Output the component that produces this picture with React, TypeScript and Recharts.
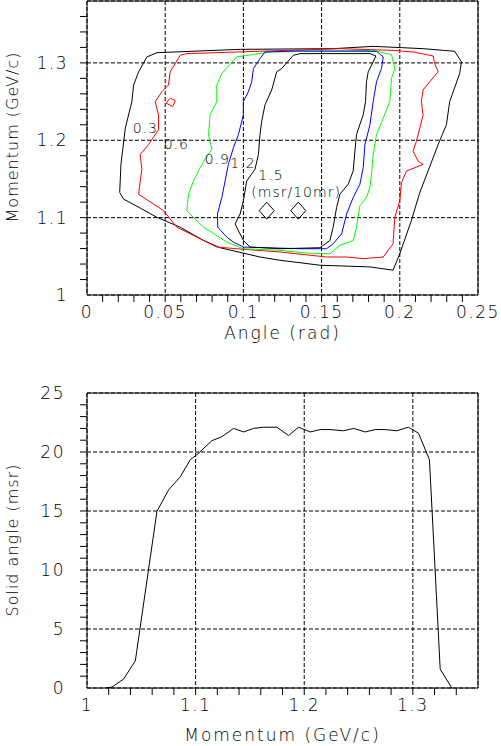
import React from "react";
import {
  ScatterChart,
  Scatter,
  LineChart,
  Line,
  XAxis,
  YAxis,
  CartesianGrid,
  ReferenceArea,
} from "recharts";

// --- top panel: acceptance contours (angle rad, momentum GeV/c) ---
const contour03: [number, number][] = [
  [0.033, 1.2885], [0.0383, 1.3077], [0.0447, 1.3132], [0.0979, 1.3175], [0.1574, 1.3184],
  [0.183, 1.3214], [0.2149, 1.3184], [0.2351, 1.315], [0.2394, 1.3013], [0.2383, 1.2863],
  [0.2319, 1.25], [0.2298, 1.2201], [0.2245, 1.1944], [0.2213, 1.1774], [0.2128, 1.1325],
  [0.2074, 1.0962], [0.2, 1.0534], [0.1957, 1.0321], [0.1809, 1.0363], [0.1489, 1.0385],
  [0.1234, 1.0449], [0.1106, 1.0491], [0.0851, 1.0611], [0.0745, 1.0705], [0.0596, 1.0876],
  [0.0447, 1.1004], [0.034, 1.1124], [0.0234, 1.1239], [0.0209, 1.1325], [0.0217, 1.1688],
  [0.0245, 1.2158], [0.0287, 1.25], [0.0298, 1.2714], [0.033, 1.2885],
];

const contour06: [number, number][] = [
  [0.0596, 1.3098], [0.0638, 1.312], [0.0957, 1.3141], [0.1617, 1.3184], [0.1957, 1.3162],
  [0.2085, 1.3141], [0.2213, 1.309], [0.2223, 1.2991], [0.2245, 1.2885], [0.2191, 1.2756],
  [0.2149, 1.265], [0.2138, 1.25], [0.2149, 1.2329], [0.2128, 1.2158], [0.2106, 1.1987],
  [0.2085, 1.1859], [0.2117, 1.1731], [0.2149, 1.1688], [0.2043, 1.1603], [0.2011, 1.1453],
  [0.2, 1.1218], [0.1968, 1.1004], [0.1957, 1.0662], [0.1894, 1.0491], [0.1766, 1.047],
  [0.166, 1.0491], [0.1532, 1.0491], [0.1234, 1.0556], [0.0957, 1.0598], [0.083, 1.062],
  [0.066, 1.0791], [0.0574, 1.0876], [0.0489, 1.109], [0.0426, 1.1175], [0.033, 1.1303],
  [0.034, 1.1474], [0.0351, 1.1624], [0.034, 1.1816], [0.0394, 1.1944], [0.0457, 1.2137],
  [0.0457, 1.2329], [0.0436, 1.25], [0.0479, 1.2628], [0.0521, 1.2714], [0.0532, 1.2885],
  [0.0596, 1.3098],
];

// small island of the 0.6 level
const contour06b: [number, number][] = [
  [0.0506, 1.2479], [0.0532, 1.2543], [0.0564, 1.2513], [0.0549, 1.2436], [0.0506, 1.2479],
];

const contour09: [number, number][] = [
  [0.0957, 1.3077], [0.117, 1.3141], [0.183, 1.3162], [0.1947, 1.3107], [0.1968, 1.2927],
  [0.1947, 1.2799], [0.1936, 1.25], [0.1894, 1.2286], [0.1851, 1.2073], [0.183, 1.1816],
  [0.1819, 1.156], [0.1809, 1.1389], [0.1787, 1.1261], [0.1745, 1.1154], [0.1723, 1.0876],
  [0.1702, 1.0705], [0.1617, 1.0641], [0.1553, 1.0534], [0.1447, 1.0534], [0.1234, 1.0577],
  [0.1, 1.0598], [0.0894, 1.0684], [0.083, 1.0769], [0.0745, 1.0876], [0.0681, 1.1004],
  [0.0638, 1.109], [0.0649, 1.1303], [0.0681, 1.1474], [0.0723, 1.1645], [0.0766, 1.1795],
  [0.0798, 1.188], [0.0777, 1.2073], [0.0787, 1.2329], [0.083, 1.25], [0.083, 1.2714],
  [0.0862, 1.2863], [0.0957, 1.3077],
];

const contour12: [number, number][] = [
  [0.1138, 1.3141], [0.134, 1.3154], [0.1851, 1.315], [0.1894, 1.3077], [0.1883, 1.2927],
  [0.1851, 1.2756], [0.183, 1.25], [0.1809, 1.2201], [0.1777, 1.1944], [0.1766, 1.1645],
  [0.1745, 1.1432], [0.1702, 1.1261], [0.166, 1.1047], [0.1628, 1.0791], [0.1574, 1.0662],
  [0.1532, 1.0598], [0.1362, 1.0598], [0.1, 1.062], [0.0936, 1.0684], [0.0894, 1.0748],
  [0.0836, 1.0876], [0.0834, 1.1047], [0.0862, 1.1261], [0.0883, 1.1474], [0.0904, 1.1688],
  [0.0936, 1.1902], [0.0968, 1.2073], [0.1, 1.2329], [0.1, 1.25], [0.1032, 1.2628],
  [0.1053, 1.2756], [0.1064, 1.2927], [0.1106, 1.3056], [0.1138, 1.3141],
];

const contour15: [number, number][] = [
  [0.1319, 1.3098], [0.1362, 1.312], [0.1809, 1.312], [0.1847, 1.309], [0.183, 1.3013],
  [0.1798, 1.2885], [0.1787, 1.2756], [0.1781, 1.25], [0.1766, 1.2329], [0.1723, 1.2073],
  [0.1713, 1.1859], [0.1702, 1.1603], [0.167, 1.1432], [0.1617, 1.1303], [0.1596, 1.1132],
  [0.1574, 1.0876], [0.1553, 1.0705], [0.1489, 1.0611], [0.1234, 1.0598], [0.1043, 1.062],
  [0.1, 1.0705], [0.0957, 1.0876], [0.0947, 1.0919], [0.0979, 1.1047], [0.1, 1.1218],
  [0.1021, 1.1474], [0.1074, 1.1624], [0.1096, 1.1816], [0.1106, 1.2073], [0.1117, 1.2244],
  [0.1138, 1.2457], [0.1181, 1.265], [0.1213, 1.2885], [0.1245, 1.2927], [0.1319, 1.3098],
];

const diamonds: [number, number][] = [[0.1149, 1.109], [0.1351, 1.109]];

const levelLabels = ["0.3", "0.6", "0.9", "1.2", "1.5", "(msr/10mr)"];
const levelLabelPos: [number, number][] = [
  [0.0373, 1.2164], [0.0571, 1.1957], [0.0833, 1.1755], [0.0997, 1.1704], [0.1176, 1.1556], [0.1337, 1.1336],
];

const angleTicks = [0, 0.05, 0.1, 0.15, 0.2, 0.25];
const momTicksTop = [1, 1.1, 1.2, 1.3];

// --- bottom panel: solid angle vs momentum ---
const momentum = [
  1.0169, 1.023, 1.0337, 1.0445, 1.0644, 1.0752, 1.0859, 1.0951, 1.1012, 1.115, 1.1242,
  1.135, 1.1442, 1.1534, 1.1626, 1.1748, 1.1856, 1.1948, 1.2055, 1.2147, 1.2239, 1.2362,
  1.2454, 1.2561, 1.2653, 1.2745, 1.2853, 1.296, 1.3052, 1.3153, 1.3252, 1.3359,
];
const solidAngle = [
  0, 0.08, 0.76, 2.3, 14.97, 16.8, 17.9, 19.35, 19.77, 20.96, 21.3,
  22.0, 21.7, 22.0, 22.1, 22.1, 21.4, 22.1, 21.7, 21.9, 21.9, 21.8,
  22.0, 21.7, 21.9, 21.9, 21.8, 22.1, 21.6, 19.35, 1.6, 0,
];
const momTicksBottom = [1, 1.1, 1.2, 1.3];
const solidTicks = [0, 5, 10, 15, 20, 25];

const FONT = "DejaVu Sans";
const WEIGHT = 200;
const tickStyle = { fontSize: 17, fill: "#000", fontFamily: FONT, fontWeight: WEIGHT, letterSpacing: 1.5 };
const gridDash = "4 2";
const MINOR = -7; // inward minor tick length

const steps = (from: number, to: number, step: number) => {
  const out: number[] = [];
  for (let i = 0; from + i * step <= to + 1e-9; i++) out.push(+(from + i * step).toFixed(4));
  return out;
};

const toXY = (pts: [number, number][]) => pts.map(([x, y]) => ({ x, y }));

const xTitle = (text: string, dy: number) => (props: any) => {
  const vb = props.viewBox;
  return (
    <text
      x={vb.x + vb.width / 2}
      y={vb.y + dy}
      textAnchor="middle"
      fontSize={17}
      fontFamily={FONT}
      fontWeight={WEIGHT}
      letterSpacing={2}
      fill="#000"
    >
      {text}
    </text>
  );
};

const yTitle = (text: string, cy: number) => () => (
  <text
    x={18}
    y={cy}
    transform={`rotate(-90 18 ${cy})`}
    textAnchor="middle"
    fontSize={16}
    fontFamily={FONT}
    fontWeight={WEIGHT}
    letterSpacing={1}
    fill="#000"
  >
    {text}
  </text>
);

const noShape = () => <g />;
const noTick = () => <g />;

const diamondShape = (p: any) => (
  <path
    d={`M${p.cx},${p.cy - 8.5}L${p.cx + 7.5},${p.cy}L${p.cx},${p.cy + 8.5}L${p.cx - 7.5},${p.cy}Z`}
    fill="none"
    stroke="#000"
    strokeWidth={1}
  />
);

const labelShape = (p: any) => (
  <text
    x={p.cx}
    y={p.cy + 5}
    textAnchor="middle"
    fontSize={14}
    fontFamily={FONT}
    fontWeight={WEIGHT}
    letterSpacing={1}
    fill="#000"
  >
    {p.payload.t}
  </text>
);

const contours = [
  { data: contour03, color: "#000000" },
  { data: contour06, color: "#ff0000" },
  { data: contour06b, color: "#ff0000" },
  { data: contour09, color: "#00ff00" },
  { data: contour12, color: "#0000ff" },
  { data: contour15, color: "#000000" },
];

export default function App() {
  const lineData = momentum.map((p, i) => ({ p, sa: solidAngle[i] }));
  const labelData = levelLabels.map((t, i) => ({ x: levelLabelPos[i][0], y: levelLabelPos[i][1], t }));

  return (
    <div style={{ position: "absolute", left: 0, top: 0, width: 501, height: 746, background: "#fff" }}>
      <div style={{ position: "absolute", left: 0, top: 0 }}>
        <ScatterChart width={501} height={350} margin={{ top: 1, right: 23, left: 0, bottom: 0 }}>
          <CartesianGrid stroke="#000" strokeDasharray={gridDash} />
          <XAxis
            type="number"
            dataKey="x"
            domain={[0, 0.25]}
            ticks={angleTicks}
            interval={0}
            allowDataOverflow
            height={55}
            tickLine={false}
            axisLine={false}
            tickSize={0}
            tickMargin={11}
            tick={tickStyle}
            label={{ content: xTitle("Angle (rad)", 44) } as any}
          />
          <XAxis
            xAxisId="minor"
            type="number"
            dataKey="x"
            domain={[0, 0.25]}
            ticks={steps(0.01, 0.24, 0.01)}
            interval={0}
            allowDataOverflow
            mirror
            height={1}
            tick={noTick}
            tickSize={MINOR}
            axisLine={false}
            tickLine={{ stroke: "#000" }}
          />
          <YAxis
            type="number"
            dataKey="y"
            domain={[1, 1.38]}
            ticks={momTicksTop}
            interval={0}
            allowDataOverflow
            width={87}
            tickLine={false}
            axisLine={false}
            tickSize={0}
            tickMargin={19}
            tick={tickStyle}
            label={{ content: yTitle("Momentum (GeV/c)", 137) } as any}
          />
          <YAxis
            yAxisId="minor"
            type="number"
            dataKey="y"
            domain={[1, 1.38]}
            ticks={steps(1.02, 1.36, 0.02)}
            interval={0}
            allowDataOverflow
            mirror
            width={1}
            tick={noTick}
            tickSize={MINOR}
            axisLine={false}
            tickLine={{ stroke: "#000" }}
          />
          {contours.map((c, i) => (
            <Scatter
              key={i}
              data={toXY(c.data)}
              line={{ stroke: c.color, strokeWidth: 1 }}
              lineType="joint"
              shape={noShape}
              fill={c.color}
              isAnimationActive={false}
            />
          ))}
          <Scatter data={toXY(diamonds)} shape={diamondShape} isAnimationActive={false} />
          <Scatter data={labelData} shape={labelShape} isAnimationActive={false} />
          <ReferenceArea x1={0} x2={0.25} y1={1} y2={1.38} fill="none" fillOpacity={0} stroke="#000" strokeWidth={1} ifOverflow="visible" />
        </ScatterChart>
      </div>

      <div style={{ position: "absolute", left: 0, top: 350 }}>
        <LineChart width={501} height={396} data={lineData} margin={{ top: 43, right: 23, left: 0, bottom: 0 }}>
          <CartesianGrid stroke="#000" strokeDasharray={gridDash} />
          <XAxis
            type="number"
            dataKey="p"
            domain={[1, 1.36]}
            ticks={momTicksBottom}
            interval={0}
            allowDataOverflow
            height={58}
            tickLine={false}
            axisLine={false}
            tickSize={0}
            tickMargin={11}
            tick={tickStyle}
            label={{ content: xTitle("Momentum (GeV/c)", 53) } as any}
          />
          <XAxis
            xAxisId="minor"
            type="number"
            dataKey="p"
            domain={[1, 1.36]}
            ticks={steps(1.02, 1.34, 0.02)}
            interval={0}
            allowDataOverflow
            mirror
            height={1}
            tick={noTick}
            tickSize={MINOR}
            axisLine={false}
            tickLine={{ stroke: "#000" }}
          />
          <YAxis
            type="number"
            domain={[0, 25]}
            ticks={solidTicks}
            interval={0}
            allowDataOverflow
            width={87}
            tickLine={false}
            axisLine={false}
            tickSize={0}
            tickMargin={22}
            tick={tickStyle}
            label={{ content: yTitle("Solid angle (msr)", 190) } as any}
          />
          <YAxis
            yAxisId="minor"
            type="number"
            domain={[0, 25]}
            ticks={steps(1, 24, 1)}
            interval={0}
            allowDataOverflow
            mirror
            width={1}
            tick={noTick}
            tickSize={MINOR}
            axisLine={false}
            tickLine={{ stroke: "#000" }}
          />
          <Line
            type="linear"
            dataKey="sa"
            stroke="#000"
            strokeWidth={1}
            dot={false}
            isAnimationActive={false}
          />
          <ReferenceArea x1={1} x2={1.36} y1={0} y2={25} fill="none" fillOpacity={0} stroke="#000" strokeWidth={1} ifOverflow="visible" />
        </LineChart>
      </div>
    </div>
  );
}
